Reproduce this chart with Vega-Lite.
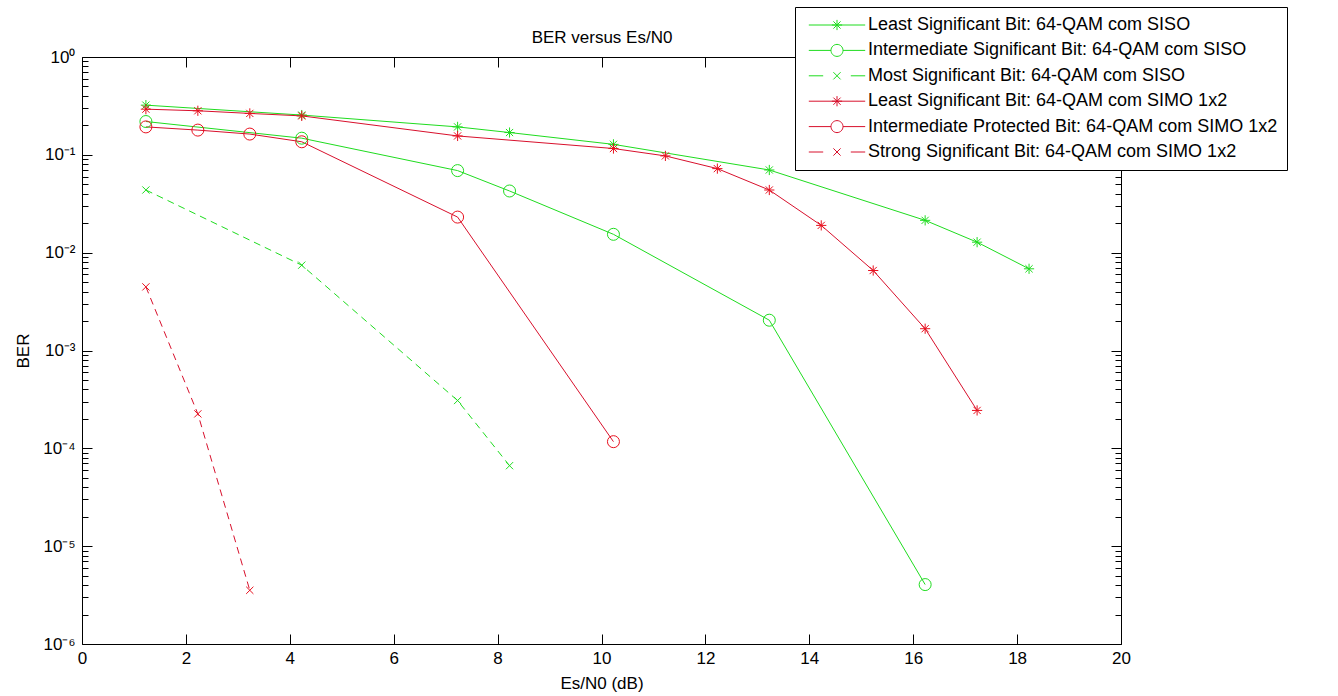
{
  "$schema": "https://vega.github.io/schema/vega-lite/v6.json",
  "width": 1039,
  "height": 587,
  "autosize": "none",
  "padding": {"left": 82, "top": 57, "right": 217, "bottom": 52},
  "background": "white",
  "config": {
    "font": "Liberation Sans",
    "view": {"stroke": "black", "strokeWidth": 1},
    "axis": {"domain": false, "grid": false, "tickColor": "black", "tickWidth": 1, "labelColor": "black", "labelFont": "Liberation Sans", "labelFontSize": 17, "titleFont": "Liberation Sans", "titleFontSize": 17, "titleFontWeight": "normal", "titleColor": "black"}
  },
  "datasets": {
    "ber": [
      {"series": "Least Significant Bit: 64-QAM com SISO", "esn0": 1.23, "ber": 0.322},
      {"series": "Least Significant Bit: 64-QAM com SISO", "esn0": 4.23, "ber": 0.255},
      {"series": "Least Significant Bit: 64-QAM com SISO", "esn0": 7.23, "ber": 0.193},
      {"series": "Least Significant Bit: 64-QAM com SISO", "esn0": 8.23, "ber": 0.169},
      {"series": "Least Significant Bit: 64-QAM com SISO", "esn0": 10.23, "ber": 0.128},
      {"series": "Least Significant Bit: 64-QAM com SISO", "esn0": 13.23, "ber": 0.070},
      {"series": "Least Significant Bit: 64-QAM com SISO", "esn0": 16.23, "ber": 0.0214},
      {"series": "Least Significant Bit: 64-QAM com SISO", "esn0": 17.23, "ber": 0.0128},
      {"series": "Least Significant Bit: 64-QAM com SISO", "esn0": 18.23, "ber": 0.00684},
      {"series": "Intermediate Significant Bit: 64-QAM com SISO", "esn0": 1.23, "ber": 0.219},
      {"series": "Intermediate Significant Bit: 64-QAM com SISO", "esn0": 4.23, "ber": 0.148},
      {"series": "Intermediate Significant Bit: 64-QAM com SISO", "esn0": 7.23, "ber": 0.069},
      {"series": "Intermediate Significant Bit: 64-QAM com SISO", "esn0": 8.23, "ber": 0.0427},
      {"series": "Intermediate Significant Bit: 64-QAM com SISO", "esn0": 10.23, "ber": 0.0154},
      {"series": "Intermediate Significant Bit: 64-QAM com SISO", "esn0": 13.23, "ber": 0.00204},
      {"series": "Intermediate Significant Bit: 64-QAM com SISO", "esn0": 16.23, "ber": 0.00000405},
      {"series": "Most Significant Bit: 64-QAM com SISO", "esn0": 1.23, "ber": 0.0437},
      {"series": "Most Significant Bit: 64-QAM com SISO", "esn0": 4.23, "ber": 0.00745},
      {"series": "Most Significant Bit: 64-QAM com SISO", "esn0": 7.23, "ber": 0.000308},
      {"series": "Most Significant Bit: 64-QAM com SISO", "esn0": 8.23, "ber": 0.0000665},
      {"series": "Least Significant Bit: 64-QAM com SIMO 1x2", "esn0": 1.23, "ber": 0.293},
      {"series": "Least Significant Bit: 64-QAM com SIMO 1x2", "esn0": 2.23, "ber": 0.282},
      {"series": "Least Significant Bit: 64-QAM com SIMO 1x2", "esn0": 3.23, "ber": 0.265},
      {"series": "Least Significant Bit: 64-QAM com SIMO 1x2", "esn0": 4.23, "ber": 0.250},
      {"series": "Least Significant Bit: 64-QAM com SIMO 1x2", "esn0": 7.23, "ber": 0.156},
      {"series": "Least Significant Bit: 64-QAM com SIMO 1x2", "esn0": 10.23, "ber": 0.116},
      {"series": "Least Significant Bit: 64-QAM com SIMO 1x2", "esn0": 11.23, "ber": 0.0975},
      {"series": "Least Significant Bit: 64-QAM com SIMO 1x2", "esn0": 12.23, "ber": 0.0723},
      {"series": "Least Significant Bit: 64-QAM com SIMO 1x2", "esn0": 13.23, "ber": 0.0437},
      {"series": "Least Significant Bit: 64-QAM com SIMO 1x2", "esn0": 14.23, "ber": 0.0190},
      {"series": "Least Significant Bit: 64-QAM com SIMO 1x2", "esn0": 15.23, "ber": 0.00657},
      {"series": "Least Significant Bit: 64-QAM com SIMO 1x2", "esn0": 16.23, "ber": 0.00167},
      {"series": "Least Significant Bit: 64-QAM com SIMO 1x2", "esn0": 17.23, "ber": 0.000244},
      {"series": "Intermediate Protected Bit: 64-QAM com SIMO 1x2", "esn0": 1.23, "ber": 0.193},
      {"series": "Intermediate Protected Bit: 64-QAM com SIMO 1x2", "esn0": 2.23, "ber": 0.179},
      {"series": "Intermediate Protected Bit: 64-QAM com SIMO 1x2", "esn0": 3.23, "ber": 0.163},
      {"series": "Intermediate Protected Bit: 64-QAM com SIMO 1x2", "esn0": 4.23, "ber": 0.136},
      {"series": "Intermediate Protected Bit: 64-QAM com SIMO 1x2", "esn0": 7.23, "ber": 0.0231},
      {"series": "Intermediate Protected Bit: 64-QAM com SIMO 1x2", "esn0": 10.23, "ber": 0.000117},
      {"series": "Strong Significant Bit: 64-QAM  com SIMO 1x2", "esn0": 1.23, "ber": 0.00447},
      {"series": "Strong Significant Bit: 64-QAM  com SIMO 1x2", "esn0": 2.23, "ber": 0.000225},
      {"series": "Strong Significant Bit: 64-QAM  com SIMO 1x2", "esn0": 3.23, "ber": 0.00000354}
    ]
  },
  "data": {"name": "ber"},
  "layer": [
    {
      "transform": [{"filter": {"field": "series", "oneOf": ["Least Significant Bit: 64-QAM com SISO", "Intermediate Significant Bit: 64-QAM com SISO", "Least Significant Bit: 64-QAM com SIMO 1x2", "Intermediate Protected Bit: 64-QAM com SIMO 1x2"]}}],
      "mark": {"type": "line", "strokeWidth": 1},
      "encoding": {
        "x": {"field": "esn0", "type": "quantitative", "scale": {"domain": [0, 20], "nice": false, "zero": false},
              "axis": {"orient": "bottom", "title": "Es/N0 (dB)", "values": [0, 2, 4, 6, 8, 10, 12, 14, 16, 18, 20], "tickSize": -10, "labelPadding": 16, "titlePadding": 9, "labelFlush": false, "labelOverlap": false}},
        "y": {"field": "ber", "type": "quantitative", "scale": {"type": "log", "domain": [0.000001, 1], "nice": false},
              "axis": {"orient": "left", "title": "BER", "titlePadding": 10,
                "values": [0.000001, 0.000002, 0.000003, 0.000004, 0.000005, 0.000006, 0.000007, 0.000008, 0.000009, 0.00001, 0.00002, 0.00003, 0.00004, 0.00005, 0.00006, 0.00007, 0.00008, 0.00009, 0.0001, 0.0002, 0.0003, 0.0004, 0.0005, 0.0006, 0.0007, 0.0008, 0.0009, 0.001, 0.002, 0.003, 0.004, 0.005, 0.006, 0.007, 0.008, 0.009, 0.01, 0.02, 0.03, 0.04, 0.05, 0.06, 0.07, 0.08, 0.09, 0.1, 0.2, 0.3, 0.4, 0.5, 0.6, 0.7, 0.8, 0.9, 1],
                "labelExpr": "abs(log(datum.value)/LN10 - round(log(datum.value)/LN10)) < 0.000001 ? '10' + ['⁰','⁻¹','⁻²','⁻³','⁻⁴','⁻⁵','⁻⁶'][-round(log(datum.value)/LN10)] : ''",
                "tickSize": {"condition": {"test": "abs(log(datum.value)/LN10 - round(log(datum.value)/LN10)) < 0.000001", "value": -10}, "value": -6},
                "labelPadding": 17, "labelOverlap": false, "labelFlush": false}},
        "color": {"field": "series", "type": "nominal",
                  "scale": {"domain": ["Least Significant Bit: 64-QAM com SISO", "Intermediate Significant Bit: 64-QAM com SISO", "Most Significant Bit: 64-QAM com SISO", "Least Significant Bit: 64-QAM com SIMO 1x2", "Intermediate Protected Bit: 64-QAM com SIMO 1x2", "Strong Significant Bit: 64-QAM  com SIMO 1x2"],
                            "range": ["#1fdc1f", "#1fdc1f", "#1fdc1f", "#d8102c", "#d8102c", "#d8102c"]},
                  "legend": null}
      }
    },
    {
      "transform": [{"filter": {"field": "series", "oneOf": ["Most Significant Bit: 64-QAM com SISO", "Strong Significant Bit: 64-QAM  com SIMO 1x2"]}}],
      "mark": {"type": "line", "strokeWidth": 1, "strokeDash": [7, 5]},
      "encoding": {
        "x": {"field": "esn0", "type": "quantitative",
              "axis": {"orient": "top", "title": "BER versus Es/N0", "titlePadding": 10, "labels": false, "values": [0, 2, 4, 6, 8, 10, 12, 14, 16, 18, 20], "tickSize": -10}},
        "y": {"field": "ber", "type": "quantitative",
              "axis": {"orient": "right", "title": null, "labels": false,
                "values": [0.000001, 0.000002, 0.000003, 0.000004, 0.000005, 0.000006, 0.000007, 0.000008, 0.000009, 0.00001, 0.00002, 0.00003, 0.00004, 0.00005, 0.00006, 0.00007, 0.00008, 0.00009, 0.0001, 0.0002, 0.0003, 0.0004, 0.0005, 0.0006, 0.0007, 0.0008, 0.0009, 0.001, 0.002, 0.003, 0.004, 0.005, 0.006, 0.007, 0.008, 0.009, 0.01, 0.02, 0.03, 0.04, 0.05, 0.06, 0.07, 0.08, 0.09, 0.1, 0.2, 0.3, 0.4, 0.5, 0.6, 0.7, 0.8, 0.9, 1],
                "tickSize": {"condition": {"test": "abs(log(datum.value)/LN10 - round(log(datum.value)/LN10)) < 0.000001", "value": -10}, "value": -6}}},
        "color": {"field": "series", "type": "nominal",
                  "scale": {"domain": ["Least Significant Bit: 64-QAM com SISO", "Intermediate Significant Bit: 64-QAM com SISO", "Most Significant Bit: 64-QAM com SISO", "Least Significant Bit: 64-QAM com SIMO 1x2", "Intermediate Protected Bit: 64-QAM com SIMO 1x2", "Strong Significant Bit: 64-QAM  com SIMO 1x2"],
                            "range": ["#1fdc1f", "#1fdc1f", "#1fdc1f", "#d8102c", "#d8102c", "#d8102c"]},
                  "legend": null}
      }
    },
    {
      "mark": {"type": "point", "filled": false, "strokeWidth": 1, "size": 144, "opacity": 1},
      "encoding": {
        "x": {"field": "esn0", "type": "quantitative", "axis": null},
        "y": {"field": "ber", "type": "quantitative", "axis": null},
        "color": {"field": "series", "type": "nominal",
                  "scale": {"domain": ["Least Significant Bit: 64-QAM com SISO", "Intermediate Significant Bit: 64-QAM com SISO", "Most Significant Bit: 64-QAM com SISO", "Least Significant Bit: 64-QAM com SIMO 1x2", "Intermediate Protected Bit: 64-QAM com SIMO 1x2", "Strong Significant Bit: 64-QAM  com SIMO 1x2"],
                            "range": ["#1fdc1f", "#1fdc1f", "#1fdc1f", "#e8101e", "#e8101e", "#e8101e"]},
                  "legend": null},
        "shape": {"field": "series", "type": "nominal",
                  "scale": {"domain": ["Least Significant Bit: 64-QAM com SISO", "Intermediate Significant Bit: 64-QAM com SISO", "Most Significant Bit: 64-QAM com SISO", "Least Significant Bit: 64-QAM com SIMO 1x2", "Intermediate Protected Bit: 64-QAM com SIMO 1x2", "Strong Significant Bit: 64-QAM  com SIMO 1x2"],
                            "range": ["M-0.85,0H0.85M0,-0.85V0.85M-0.6,-0.6L0.6,0.6M-0.6,0.6L0.6,-0.6", "circle", "M-0.6,-0.6L0.6,0.6M-0.6,0.6L0.6,-0.6", "M-0.85,0H0.85M0,-0.85V0.85M-0.6,-0.6L0.6,0.6M-0.6,0.6L0.6,-0.6", "circle", "M-0.6,-0.6L0.6,0.6M-0.6,0.6L0.6,-0.6"]},
                  "legend": null}
      }
    },
    {
      "transform": [{"filter": "datum.ber > 10"}],
      "mark": {"type": "point", "filled": false, "strokeWidth": 1, "size": 144, "opacity": 1},
      "encoding": {
        "x": {"field": "esn0", "type": "quantitative", "axis": null},
        "y": {"field": "ber", "type": "quantitative", "axis": null},
        "color": {"field": "series", "type": "nominal",
                  "scale": {"domain": ["Least Significant Bit: 64-QAM com SISO", "Intermediate Significant Bit: 64-QAM com SISO", "Most Significant Bit: 64-QAM com SISO", "Least Significant Bit: 64-QAM com SIMO 1x2", "Intermediate Protected Bit: 64-QAM com SIMO 1x2", "Strong Significant Bit: 64-QAM  com SIMO 1x2"],
                            "range": ["#1fdc1f", "#1fdc1f", "#1fdc1f", "#d8102c", "#d8102c", "#d8102c"]},
                  "legend": {"title": null, "orient": "none", "legendX": 713, "legendY": -50, "padding": 9, "strokeColor": "black", "fillColor": "white", "cornerRadius": 0,
                             "labelFont": "Liberation Sans", "labelFontSize": 18, "labelColor": "black", "labelLimit": 0,
                             "symbolSize": 144, "symbolStrokeWidth": 1, "symbolOffset": 24, "labelOffset": 22, "rowPadding": 7.4, "clipHeight": 18}},
        "shape": {"field": "series", "type": "nominal",
                  "scale": {"domain": ["Least Significant Bit: 64-QAM com SISO", "Intermediate Significant Bit: 64-QAM com SISO", "Most Significant Bit: 64-QAM com SISO", "Least Significant Bit: 64-QAM com SIMO 1x2", "Intermediate Protected Bit: 64-QAM com SIMO 1x2", "Strong Significant Bit: 64-QAM  com SIMO 1x2"],
                            "range": ["M-4.7,0H4.7M-0.85,0H0.85M0,-0.85V0.85M-0.6,-0.6L0.6,0.6M-0.6,0.6L0.6,-0.6", "M-4.7,0H-1M1,0H4.7M1,0C1,0.5523,0.5523,1,0,1C-0.5523,1,-1,0.5523,-1,0C-1,-0.5523,-0.5523,-1,0,-1C0.5523,-1,1,-0.5523,1,0Z", "M-4.7,0H-2.3M2.3,0H4.7M-0.6,-0.6L0.6,0.6M-0.6,0.6L0.6,-0.6", "M-4.7,0H4.7M-0.85,0H0.85M0,-0.85V0.85M-0.6,-0.6L0.6,0.6M-0.6,0.6L0.6,-0.6", "M-4.7,0H-1M1,0H4.7M1,0C1,0.5523,0.5523,1,0,1C-0.5523,1,-1,0.5523,-1,0C-1,-0.5523,-0.5523,-1,0,-1C0.5523,-1,1,-0.5523,1,0Z", "M-4.7,0H-2.3M2.3,0H4.7M-0.6,-0.6L0.6,0.6M-0.6,0.6L0.6,-0.6"]},
                  "legend": {"title": null, "orient": "none", "legendX": 713, "legendY": -50, "padding": 9, "strokeColor": "black", "fillColor": "white", "cornerRadius": 0,
                             "labelFont": "Liberation Sans", "labelFontSize": 18, "labelColor": "black", "labelLimit": 0,
                             "symbolSize": 144, "symbolStrokeWidth": 1, "symbolOffset": 24, "labelOffset": 22, "rowPadding": 7.4, "clipHeight": 18}}
      }
    }
  ],
  "resolve": {"axis": {"x": "independent", "y": "independent"}, "scale": {"color": "independent", "shape": "independent"}}
}
